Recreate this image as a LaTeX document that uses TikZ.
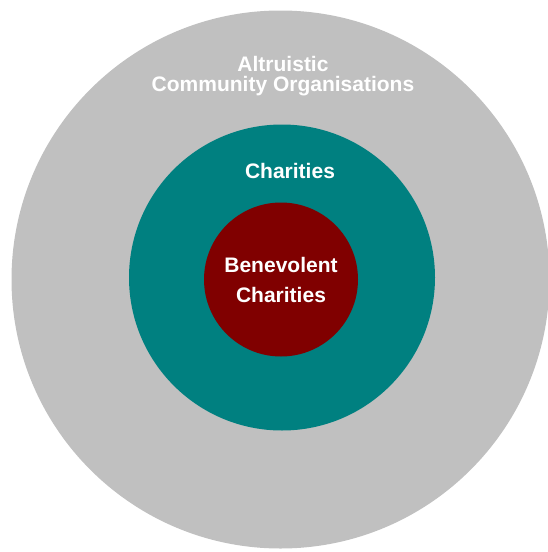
\documentclass[tikz,border=0pt]{standalone}
\usepackage{fontspec}
\setmainfont{Liberation Sans}
\usepackage{xcolor}
\usetikzlibrary{positioning}

\definecolor{ringgray}{HTML}{C0C0C0}
\definecolor{ringteal}{HTML}{008080}
\definecolor{ringmaroon}{HTML}{800000}

\tikzset{
    ring/.style={circle, inner sep=0pt, draw=none},
    lbl/.style={text=white, font=\bfseries\fontsize{21}{20}\selectfont, align=center}
}

\begin{document}
\begin{tikzpicture}[x=1pt,y=-1pt]
    \useasboundingbox (0,0) rectangle (548,552);

    % Outer ring
    \node[ring, fill=ringgray, minimum size=538pt] (altruistic) at (280.5,279.5) {};
    \node[lbl, anchor=center] (altlabel) at (283,76) {Altruistic\\Community Organisations};

    % Middle ring
    \node[ring, fill=ringteal, minimum size=306pt] (charities) at (282,277.5) {};
    \node[lbl, anchor=base] (charlabel) at (290,178) {Charities};

    % Inner ring
    \node[ring, fill=ringmaroon, minimum size=154pt, lbl,
          font=\bfseries\fontsize{21}{30}\selectfont] (benevolent) at (281,279.5)
          {Benevolent\\Charities};
\end{tikzpicture}
\end{document}
